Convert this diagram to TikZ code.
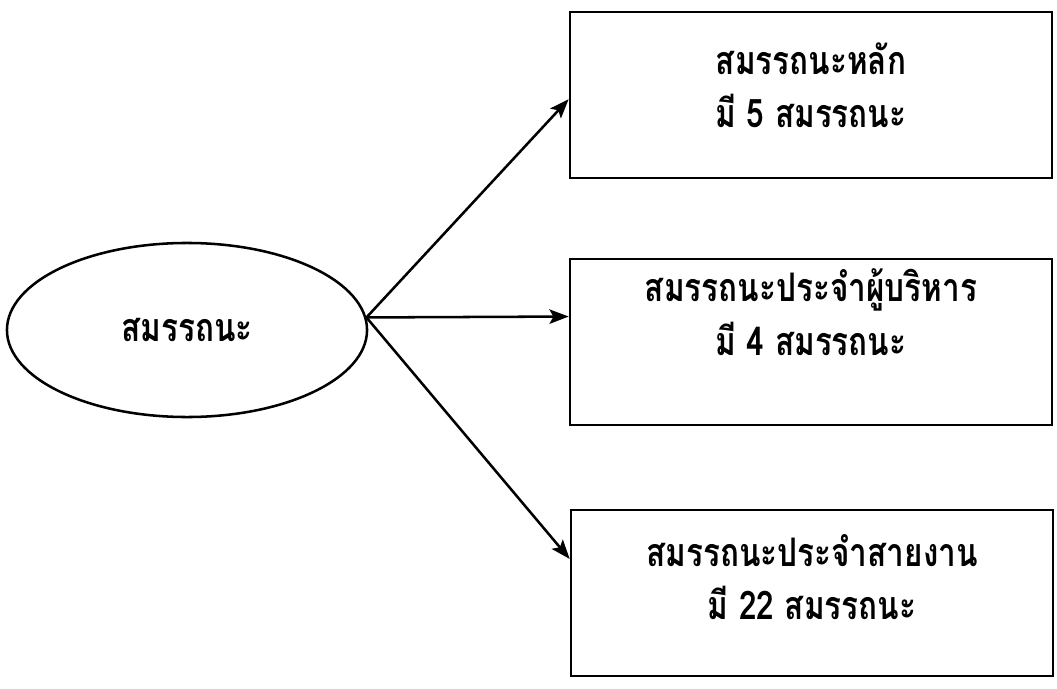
\documentclass[tikz,border=0pt]{standalone}
\usepackage{fontspec}
\newfontfamily\thaifont[Script=Thai,FakeStretch=0.8]{Loma}
\usetikzlibrary{shapes.geometric,arrows.meta}
\tikzset{
  thaitext/.style={font=\thaifont\bfseries\fontsize{28}{38}\selectfont},
  compbox/.style={shape=rectangle,draw=black,line width=1.8pt,minimum width=12.05cm,minimum height=4.15cm},
  boxtext/.style={thaitext,align=center,yshift=#1},
  compell/.style={shape=ellipse,draw=black,line width=1.8pt,minimum width=9cm,minimum height=4.35cm,inner sep=0pt,thaitext},
  link/.style={-{Stealth[length=0.48cm,width=0.36cm,inset=0.1cm]},line width=1.8pt}
}
\begin{document}
\begin{tikzpicture}[x=0.025cm,y=-0.025cm]
    \useasboundingbox (0,0) rectangle (1057,689);
    \node[compell] (ell) at (187,330) {สมรรถนะ};
    \node[compbox,label={[boxtext=0.25cm,name=toptext]center:สมรรถนะหลัก\\มี 5 สมรรถนะ}] (top) at (811,95) {};
    \node[compbox,label={[boxtext=0.75cm,name=midtext]center:สมรรถนะประจำผู้บริหาร\\มี 4 สมรรถนะ}] (mid) at (811,342) {};
    \node[compbox,label={[boxtext=0.4cm,name=bottext]center:สมรรถนะประจำสายงาน\\มี 22 สมรรถนะ}] (bot) at (812,593) {};

    \draw[link] (ell.4) -- (top.181);
    \draw[link] (ell.4) -- (mid.174);
    \draw[link] (ell.4) -- (bot.172);

\end{tikzpicture}
\end{document}
